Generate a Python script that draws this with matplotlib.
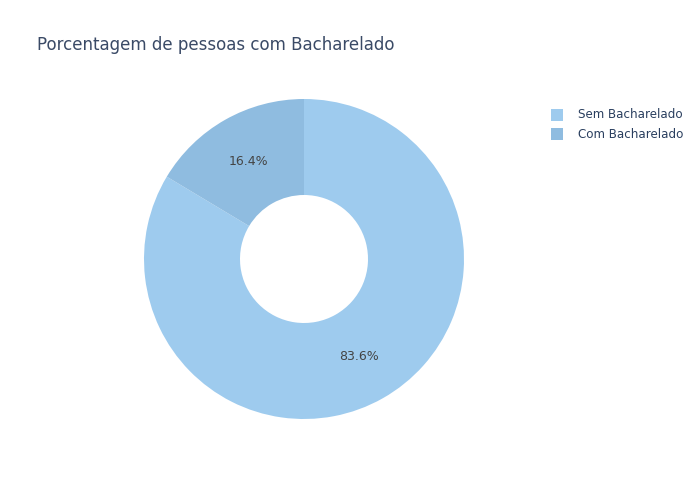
import matplotlib
matplotlib.use("Agg")
import matplotlib.pyplot as plt
from matplotlib.patches import Rectangle

labels = ["Sem Bacharelado", "Com Bacharelado"]
values = [83.6, 16.4]
colors = ["#9ECBEE", "#8FBCE0"]

W, H = 700, 500
fig = plt.figure(figsize=(7, 5), dpi=100)
fig.patch.set_facecolor("white")

cx, cy, r = 304, 259, 160
ax = fig.add_axes([(cx - r) / W, (H - cy - r) / H, 2 * r / W, 2 * r / H])
wedges, texts, autotexts = ax.pie(
    values, colors=colors, startangle=90, counterclock=False,
    autopct="%.1f%%", pctdistance=0.70,
    wedgeprops=dict(width=0.6, edgecolor="none"),
    textprops=dict(color="#444444", fontsize=9, family="DejaVu Sans"),
)
ax.set_xlim(-1, 1)
ax.set_ylim(-1, 1)
ax.set_aspect("equal")
ax.axis("off")

fig.text(37 / W, 1 - 45 / H, "Porcentagem de pessoas com Bacharelado",
         fontsize=12.0, color="#3a4a66", va="center", ha="left", family="DejaVu Sans")

ys = [115, 134]
for lab, col, y in zip(labels, colors, ys):
    fig.patches.append(Rectangle(((551) / W, 1 - (y + 6) / H), 12 / W, 12 / H,
                                 transform=fig.transFigure, facecolor=col, edgecolor="none"))
    fig.text(578 / W, 1 - y / H, lab, fontsize=8.6, color="#2a3f5f", va="center", ha="left",
             family="DejaVu Sans")

fig.savefig("out.png", dpi=100)
